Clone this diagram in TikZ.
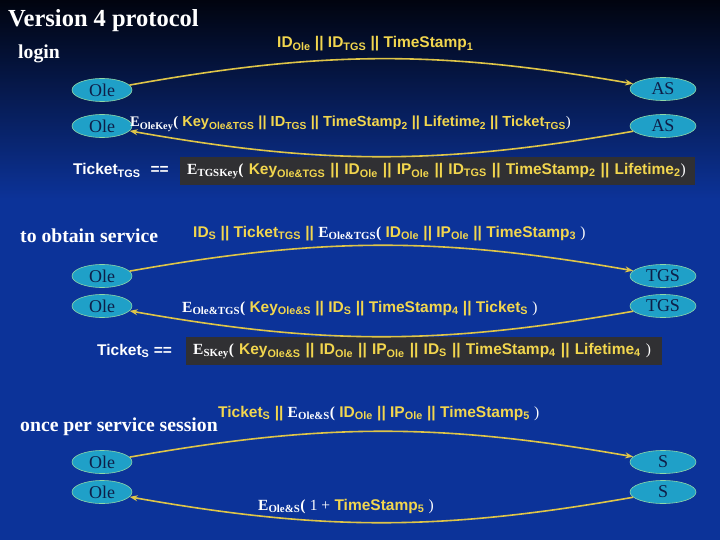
\documentclass[tikz,border=0pt]{standalone}
\usepackage{fontspec}
\setmainfont{Liberation Serif}
\setsansfont{Liberation Sans}
\definecolor{bgtop}{HTML}{01040F}
\definecolor{bgblue}{HTML}{0C3399}
\definecolor{ellfill}{HTML}{1FA0C8}
\definecolor{ellline}{HTML}{8ED8A8}
\definecolor{ellink}{HTML}{0E1E48}
\definecolor{msgyellow}{HTML}{F2D64E}
\definecolor{sealgray}{HTML}{303033}
\usetikzlibrary{shapes.geometric,arrows.meta,positioning}
\newcommand{\lo}[1]{\textsubscript{#1}}
\newcommand{\enc}[1]{{\color{white}\rmfamily E\textsubscript{#1}(}}
\newcommand{\rp}{{\color{white}\rmfamily\mdseries )}}

\begin{document}
\begin{tikzpicture}[x=1pt, y=-1pt,
    party/.style={ellipse, draw=ellline, semithick, fill=ellfill, text=ellink,
                minimum width=60pt, minimum height=23pt, inner sep=0pt,
                font=\fontsize{18}{18}\selectfont},
    server/.style={party, minimum width=66pt},
    msg/.style={anchor=base west, inner sep=0pt, text=msgyellow,
                font=\fontsize{15.5}{17}\selectfont\sffamily\bfseries},
    heading/.style={anchor=base west, inner sep=0pt, text=white,
                font=\fontsize{19.7}{22}\selectfont\bfseries},
    sealed/.style={anchor=west, fill=sealgray, minimum height=28pt, inner xsep=7pt,
                align=left, text=msgyellow, font=\fontsize{15.5}{17}\selectfont\sffamily\bfseries},
    flow/.style={-{Stealth[length=8pt,width=6pt]}, line width=1.6pt, draw=msgyellow!92!black, bend left=10}
]
    \useasboundingbox (0,0) rectangle (720,540);
    \shade[top color=bgtop, bottom color=bgblue] (0,0) rectangle (720,200);
    \fill[bgblue] (0,200) rectangle (720,540);

    \node[heading, font=\fontsize{24.5}{27}\selectfont\bfseries] (title) at (8,27) {Version 4 protocol};
    \node[heading] (login) at (18,59) {login};
    \node[heading] (obtain) at (20,243) {to obtain service};
    \node[heading] (session) at (20,431) {once per service session};

    % login with AS
    \node[party] (ole1) at (102,90) {Ole};
    \node[server] (as1) at (663,89) {AS};
    \node[party] (ole2) at (102,126) {Ole};
    \node[server] (as2) at (663,126) {AS};
    \node[msg] (msg1) at (277,48) {ID\lo{Ole} || ID\lo{TGS} || TimeStamp\lo{1}};
    \node[msg, font=\fontsize{14.6}{16}\selectfont\sffamily\bfseries] (msg2) at (130,127) {\enc{OleKey} Key\lo{Ole\&TGS} || ID\lo{TGS} || TimeStamp\lo{2} || Lifetime\lo{2} || Ticket\lo{TGS}\rp};
    \node[msg, text=white] (tkttgs) at (73,175) {Ticket\lo{TGS}\hspace{10pt}==};
    \node[sealed, text width=501pt] (sealtgs) at (180,171) {\enc{TGSKey} Key\lo{Ole\&TGS} || ID\lo{Ole} || IP\lo{Ole} || ID\lo{TGS} || TimeStamp\lo{2} || Lifetime\lo{2}\rp};
    \draw[flow] (ole1) to (as1);
    \draw[flow] (as2) to (ole2);

    % ticket for S from TGS
    \node[party] (ole3) at (102,276) {Ole};
    \node[server] (tgs1) at (663,276) {TGS};
    \node[party] (ole4) at (102,306) {Ole};
    \node[server] (tgs2) at (663,306) {TGS};
    \node[msg] (msg3) at (193,237) {ID\lo{S} || Ticket\lo{TGS} || \enc{Ole\&TGS} ID\lo{Ole} || IP\lo{Ole} || TimeStamp\lo{3} \rp};
    \node[msg] (msg4) at (182,312) {\enc{Ole\&TGS} Key\lo{Ole\&S} || ID\lo{S} || TimeStamp\lo{4} || Ticket\lo{S} \rp};
    \node[msg, text=white] (tkts) at (97,355) {Ticket\lo{S} ==};
    \node[sealed, text width=462pt] (seals) at (186,351) {\enc{SKey} Key\lo{Ole\&S} || ID\lo{Ole} || IP\lo{Ole} || ID\lo{S} || TimeStamp\lo{4} || Lifetime\lo{4} \rp};
    \draw[flow] (ole3) to (tgs1);
    \draw[flow] (tgs2) to (ole4);

    % service session with S
    \node[party] (ole5) at (102,462) {Ole};
    \node[server] (s1) at (663,462) {S};
    \node[party] (ole6) at (102,492) {Ole};
    \node[server] (s2) at (663,492) {S};
    \node[msg] (msg5) at (218,417) {Ticket\lo{S} || \enc{Ole\&S} ID\lo{Ole} || IP\lo{Ole} || TimeStamp\lo{5} \rp};
    \node[msg] (msg6) at (258,510) {\enc{Ole\&S} {\color{white}\rmfamily\mdseries 1 +} TimeStamp\lo{5} \rp};
    \draw[flow] (ole5) to (s1);
    \draw[flow] (s2) to (ole6);
\end{tikzpicture}
\end{document}
